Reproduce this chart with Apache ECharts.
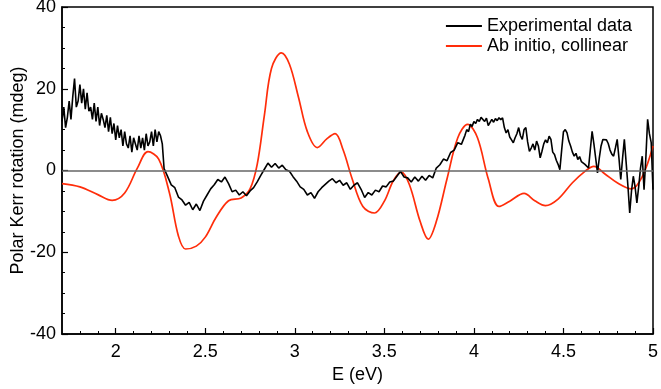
<!DOCTYPE html>
<html>
<head>
<meta charset="utf-8">
<script src="https://cdn.jsdelivr.net/npm/echarts@6/dist/echarts.min.js"></script>
<style>
  html, body { margin: 0; padding: 0; background: #fff; }
  #main { width: 661px; height: 389px; }
</style>
</head>
<body>
<div id="main"></div>
<script>
// experimental data, three stretches with their own sampling step (eV)
// noisy low-energy part, 1.70 .. 2.26 every 0.01
var expA = { start: 1.70, step: 0.01, values: [
  12, 15.5, 10.5, 13, 17, 12.5, 18, 22.5, 15.5, 17,
  21, 16.5, 20, 15, 19, 14.5, 15.5, 12.5, 16.5, 12,
  15.5, 11, 14, 12.5, 10.5, 13.5, 9.5, 13, 9, 11.5,
  7.5, 11, 8, 10, 6, 9.5, 6.5, 5.5, 8.5, 4.5,
  8, 6.5, 5, 8.5, 5.5, 8, 5, 9, 6, 7,
  9.5, 6, 10, 7, 9.5, 8.5, 6.5
]};
// middle part, 2.27 .. 3.95 every 0.02
var expB = { start: 2.27, step: 0.02, values: [
  0.5, -1.5, -3.5, -4.2, -6.5, -7.2, -8.5, -7.8, -9.6, -8.2,
  -9.8, -7.5, -6, -4.5, -3.5, -2.2, -2.8, -1.6, -3.2, -5.2,
  -4.8, -6, -5.2, -6.2, -5, -4.2, -2.8, -1.2, 0.3, 1.8,
  0.8, 1.7, 0.6, 1.3, 0.2, -0.2, -1.5, -2.6, -4, -4.6,
  -6, -5.4, -6.8, -5.2, -4.2, -3.4, -2.6, -2.0, -3.0, -2.4,
  -3.6, -3.0, -4.6, -3.6, -3.0, -4.6, -6.6, -5.4, -6.0, -4.8,
  -5.2, -3.8, -4.0, -2.8, -2.6, -1.4, -0.2, -1.6, -1.8, -2.8,
  -1.6, -2.6, -1.4, -2.4, -1.2, -1.8, 0.6, 1.4, 2.8, 2.4,
  4.4, 5.0, 6.8, 6.4, 8.6
]};
// noisy high-energy part, 3.96 .. 5.00 every 0.01
var expC = { start: 3.96, step: 0.01, values: [
  10, 9.5, 11.3, 10.8, 12, 11.5, 12.5, 12, 13,
  13.2, 12, 12.8, 11, 11.3, 12.5, 11.8, 12.7, 12.2, 12.9,
  12.4, 12.9, 10.5, 9.2, 10, 8.2, 7.5, 6.8, 8, 9,
  10.5, 8.5, 7.6, 10, 10.5, 7, 4.7, 5.5, 6.5, 5,
  7.2, 6, 3.1, 4.7, 6.5, 7.5, 6.8, 8.4, 7.6, 4.5,
  3.9, 2.5, 1.5, 0.2, 5, 9.5, 10, 9.2, 7.2, 6,
  4.5, 3.5, 4.2, 2.7, 3.4, 2.2, 2.6, 1.5, 1.9, 0.6,
  0.2, 9.6, 6.5, 3, -0.6, 3, 6, 7.6, 8, 7.5,
  6.6, 5, 4, 3.5, 5.5, 7.6, 3, -2.2, 3, 7.6,
  2, -3.8, -10.4, -5, -1.4, -4, -7.9, -4, 0.5, 3.5,
  -4.7, 3, 12.5, 9, 6.8, -4.7
]};

// ab initio curve, read at its turning points and flanks
var calcE = [1.70, 1.80, 1.90, 1.98, 2.05, 2.12, 2.18, 2.24, 2.30, 2.35,
  2.39, 2.45, 2.50, 2.56, 2.63, 2.70, 2.75, 2.79, 2.83, 2.87,
  2.925, 2.97, 3.02, 3.07, 3.125, 3.18, 3.225, 3.27, 3.32, 3.38,
  3.445, 3.50, 3.55, 3.595, 3.64, 3.70, 3.745, 3.79, 3.85, 3.91,
  3.965, 4.02, 4.08, 4.14, 4.20, 4.28, 4.34, 4.40, 4.47, 4.55,
  4.62, 4.67, 4.73, 4.80, 4.88, 4.94, 5.00];
var calcValues = [-3.2, -4.0, -5.9, -7.3, -5.5, 0.5, 4.6, 2.8, -5.5, -16,
  -19.2, -18.5, -16.3, -11.5, -7.4, -6.7, -4.5, 1.5, 13.5, 25,
  28.8, 26, 18, 9.5, 5.6, 7.8, 9.0, 5, -2, -8.8,
  -10.4, -7.5, -2.5, -0.4, -3.5, -12.5, -16.8, -12.5, -2, 8,
  11.3, 8, -2, -8.8, -7.5, -5.6, -7.4, -8.6, -7, -3.0,
  -0.2, 1.0, -0.8, -3, -4.5, -1.5, 6.0];

var majorX = [2, 2.5, 3, 3.5, 4, 4.5, 5];
var minorX = [1.8, 1.9, 2.1, 2.2, 2.3, 2.4, 2.6, 2.7, 2.8, 2.9, 3.1, 3.2, 3.3, 3.4,
  3.6, 3.7, 3.8, 3.9, 4.1, 4.2, 4.3, 4.4, 4.6, 4.7, 4.8, 4.9];

function stretch(s) {
  return s.values.map(function (v, i) {
    return [+(s.start + i * s.step).toFixed(3), v];
  });
}

var expData = stretch(expA).concat(stretch(expB), stretch(expC));
var calcData = calcE.map(function (e, i) { return [e, calcValues[i]]; });

var font = 'Liberation Sans, Arial, Helvetica, sans-serif';
var chart = echarts.init(document.getElementById('main'));

chart.setOption({
  animation: false,
  grid: {
    left: 62, right: 8, top: 7, bottom: 55,
    outerBoundsMode: 'none',
    show: true, borderColor: '#000', borderWidth: 1.5
  },
  legend: {
    orient: 'vertical',
    right: 24,
    top: 12,
    icon: 'rect',
    itemWidth: 36,
    itemHeight: 2,
    itemGap: 2,
    textStyle: { fontFamily: font, fontSize: 18, color: '#000' },
    data: ['Experimental data', 'Ab initio, collinear']
  },
  xAxis: [
    {
      type: 'value', min: 1.7, max: 5,
      name: 'E (eV)', nameLocation: 'middle', nameGap: 32,
      nameMoveOverlap: false,
      nameTextStyle: { fontFamily: font, fontSize: 18, color: '#000' },
      axisLine: { show: true, onZero: false, lineStyle: { color: '#000', width: 1.5 } },
      axisTick: { inside: true, length: 6, customValues: majorX, lineStyle: { color: '#000', width: 1.2 } },
      axisLabel: { customValues: majorX, fontFamily: font, fontSize: 18, color: '#000', margin: 9 },
      splitLine: { show: false }
    },
    {
      // minor ticks every 0.1 eV
      type: 'value', min: 1.7, max: 5,
      position: 'bottom',
      axisLine: { show: false, onZero: false },
      axisTick: { inside: true, length: 3, customValues: minorX, lineStyle: { color: '#000', width: 1 } },
      axisLabel: { show: false },
      splitLine: { show: false }
    }
  ],
  yAxis: {
    type: 'value', min: -40, max: 40, interval: 20,
    name: 'Polar Kerr rotation (mdeg)', nameLocation: 'middle', nameGap: 35,
    nameMoveOverlap: false,
    nameTextStyle: { fontFamily: font, fontSize: 18, color: '#000' },
    axisLine: { show: true, onZero: false, lineStyle: { color: '#000', width: 1.5 } },
    axisTick: { inside: true, length: 6, lineStyle: { color: '#000', width: 1.2 } },
    minorTick: { show: true, splitNumber: 4, length: 3, lineStyle: { color: '#000', width: 1 } },
    axisLabel: { fontFamily: font, fontSize: 18, color: '#000', margin: 6 },
    splitLine: { show: false }
  },
  series: [
    {
      name: 'zero',
      type: 'line',
      data: [],
      z: 1,
      silent: true,
      markLine: {
        silent: true,
        symbol: 'none',
        label: { show: false },
        lineStyle: { color: '#666', width: 1.5, type: 'solid' },
        data: [{ yAxis: 0 }]
      }
    },
    {
      name: 'Experimental data',
      type: 'line',
      symbol: 'none',
      z: 3,
      lineStyle: { color: '#000', width: 1.6 },
      itemStyle: { color: '#000' },
      data: expData
    },
    {
      name: 'Ab initio, collinear',
      type: 'line',
      symbol: 'none',
      smooth: 0.35,
      z: 2,
      lineStyle: { color: '#ff2d0a', width: 1.7 },
      itemStyle: { color: '#ff2d0a' },
      data: calcData
    }
  ]
});
</script>
</body>
</html>
